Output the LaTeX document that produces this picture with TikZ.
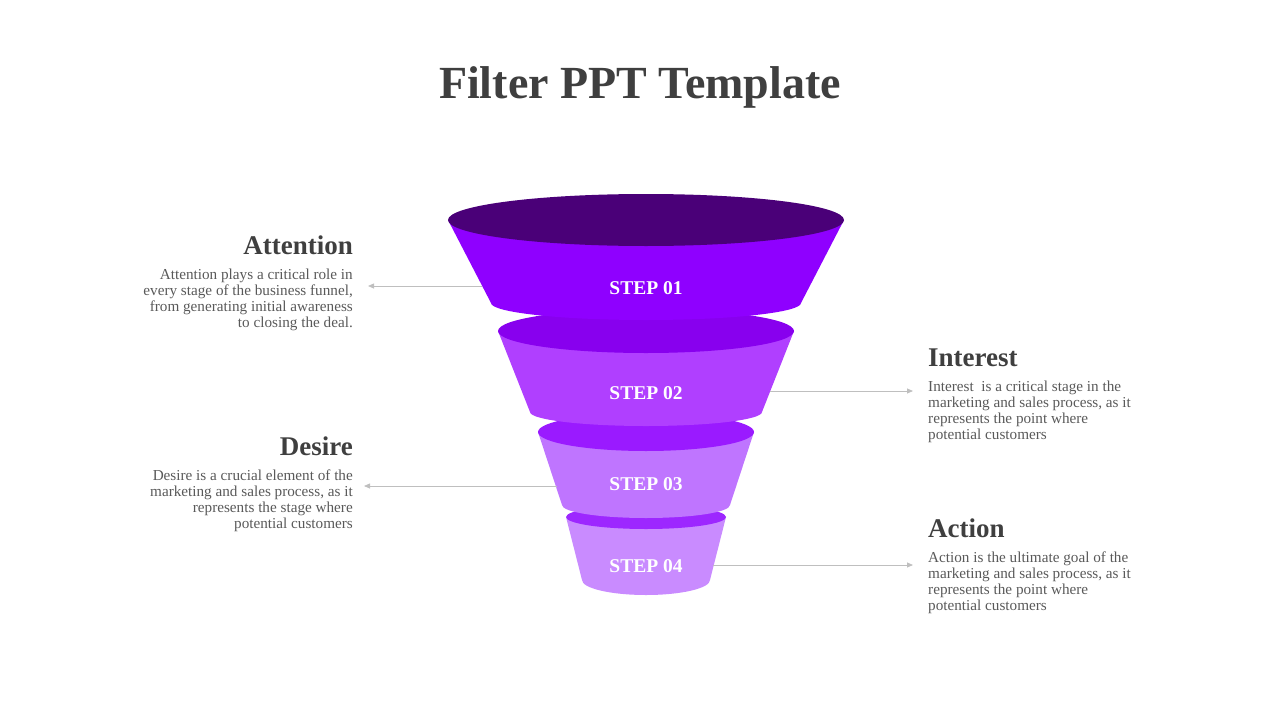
\documentclass[tikz,border=0pt]{standalone}
\usepackage{fontspec}
\setmainfont{Liberation Serif}
\usepackage{tikz}
\usetikzlibrary{arrows.meta}
\definecolor{headgray}{HTML}{3F3F3F}
\definecolor{textgray}{HTML}{595959}
\definecolor{linegray}{HTML}{BFBFBF}
\begin{document}
\begin{tikzpicture}[x=1pt,y=1pt,
    head/.style={font=\bfseries\fontsize{27}{30}\selectfont,text=headgray,inner sep=0pt},
    body/.style={font=\fontsize{15.2}{16}\selectfont,text=textgray,inner sep=0pt},
    stepname/.style={font=\bfseries\fontsize{19.5}{22}\selectfont,text=white},
    pointer/.style={draw=linegray,line width=0.8pt,-{Triangle[length=6pt,width=5pt]}}]
  \useasboundingbox (0,0) rectangle (1280,-720);
  % title
  \node (title) at (640,-87) {\bfseries\fontsize{46}{52}\selectfont\color{headgray}Filter PPT Template};
  % funnel, bottom piece first
  \foreach \ty/\a/\b/\by/\c/\d/\bodycol/\topcol in {517/80/12/580/64/15/C98BFF/9D27FF,
      432/108/19/505/84/13/BF75FF/9A1AFF,
      331/148/22/412/116/14/B03FFF/8800EE,
      220/198/26/303/155/17/8F00FF/4A0078} {
    \definecolor{bodycol}{HTML}{\bodycol}
    \definecolor{topcol}{HTML}{\topcol}
    \fill[bodycol] (646-\a,-\ty) -- (646-\c,-\by)
      arc[start angle=180,end angle=360,x radius=\c,y radius=\d] -- (646+\a,-\ty) -- cycle;
    \fill[topcol] (646,-\ty) ellipse[x radius=\a,y radius=\b];
  }
  \node[stepname] (s1) at (646,-288) {STEP 01};
  \node[stepname] (s2) at (646,-393) {STEP 02};
  \node[stepname] (s3) at (646,-484) {STEP 03};
  \node[stepname] (s4) at (646,-566) {STEP 04};
  % texts
  \node[head,anchor=base east] (t1) at (353,-254) {Attention};
  \node[body,anchor=north east,align=right] (b1) at (353,-269) {Attention plays a critical role in\\every stage of the business funnel,\\from generating initial awareness\\to closing the deal.};
  \node[head,anchor=base west] (t2) at (928,-366) {Interest};
  \node[body,anchor=north west,align=left] (b2) at (928,-381) {Interest~ is a critical stage in the\\marketing and sales process, as it\\represents the point where\\potential customers};
  \node[head,anchor=base east] (t3) at (353,-455) {Desire};
  \node[body,anchor=north east,align=right] (b3) at (353,-470) {Desire is a crucial element of the\\marketing and sales process, as it\\represents the stage where\\potential customers};
  \node[head,anchor=base west] (t4) at (928,-537) {Action};
  \node[body,anchor=north west,align=left] (b4) at (928,-552) {Action is the ultimate goal of the\\marketing and sales process, as it\\represents the point where\\potential customers};
  % pointers
  \coordinate (e1) at (482,-286);
  \coordinate (a1) at (368,-286);
  \coordinate (e2) at (770,-391);
  \coordinate (a2) at (913,-391);
  \coordinate (e3) at (557,-486);
  \coordinate (a3) at (364,-486);
  \coordinate (e4) at (713,-565);
  \coordinate (a4) at (913,-565);
  \draw[pointer] (e1) -- (a1);
  \draw[pointer] (e2) -- (a2);
  \draw[pointer] (e3) -- (a3);
  \draw[pointer] (e4) -- (a4);
\end{tikzpicture}
\end{document}
